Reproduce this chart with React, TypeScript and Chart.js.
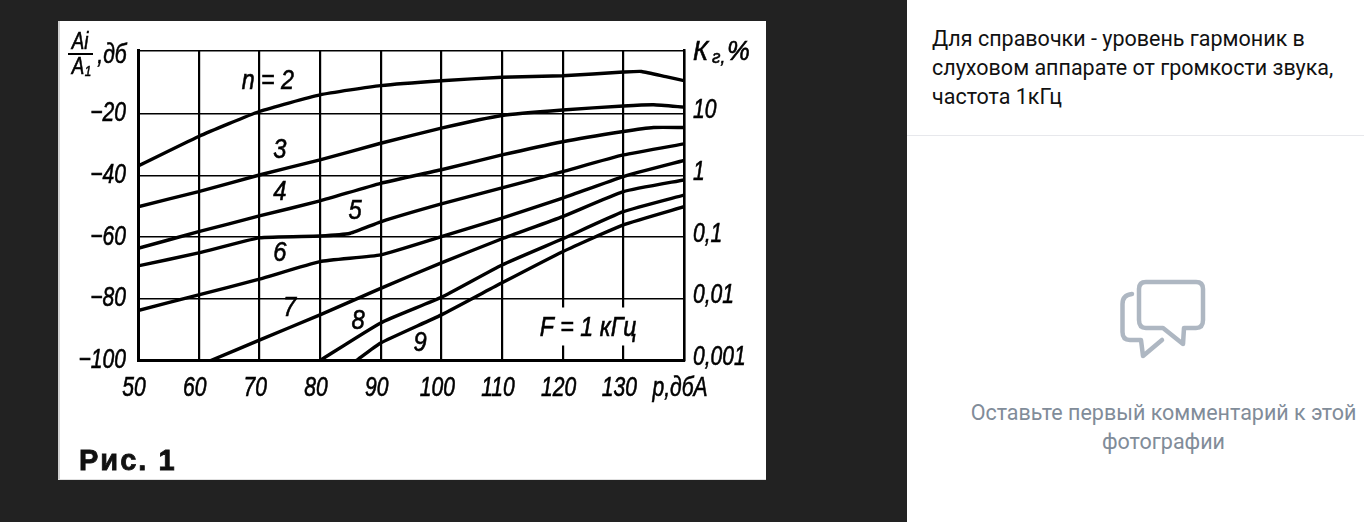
import React, { useEffect, useRef } from "react";
import { Chart, registerables } from "chart.js";

Chart.register(...registerables);

const xTicks = [50, 60, 70, 80, 90, 100, 110, 120, 130, 140];
const xTickLabels = ["50", "60", "70", "80", "90", "100", "110", "120", "130", "р,дбА"];
const leftTicks = [-100, -80, -60, -40, -20];
const leftTickLabels = ["−100", "−80", "−60", "−40", "−20"];
const rightTicks = [0.001, 0.01, 0.1, 1, 10];
const rightTickLabels = ["0,001", "0,01", "0,1", "1", "10"];

const n2X = [50, 60, 70, 80, 90, 100, 110, 120, 130, 133, 137, 140];
const n2Y = [-36.9, -27.3, -19.2, -13.8, -10.8, -9.2, -8.1, -7.6, -6.4, -6.2, -7.9, -9.2];
const n3X = [50, 60, 70, 80, 90, 100, 110, 120, 130, 135, 140];
const n3Y = [-50.1, -45.2, -39.8, -34.9, -29.5, -24.6, -20.5, -18.7, -17.4, -17, -17.8];
const n4X = [50, 60, 70, 80, 90, 100, 110, 120, 130, 135, 140];
const n4Y = [-63.6, -58.2, -53.1, -48.2, -42.5, -38.1, -33.3, -29, -25.7, -24.4, -24.4];
const n5X = [50, 60, 70, 80, 85, 90, 100, 110, 120, 130, 140];
const n5Y = [-69.3, -65.1, -60.2, -59.6, -58.7, -55, -49.2, -44, -38.7, -33.3, -29.7];
const n6X = [50, 60, 70, 80, 90, 100, 110, 120, 130, 140];
const n6Y = [-83.8, -78.7, -73.6, -67.9, -65.7, -59.8, -53.8, -47.3, -40.3, -35.1];
const n7X = [62, 70, 80, 90, 100, 110, 120, 130, 140];
const n7Y = [-100, -93.4, -85.2, -76.6, -68.3, -60.5, -53.3, -45.2, -41.4];
const n8X = [80, 90, 100, 110, 120, 130, 140];
const n8Y = [-100, -87.8, -79.5, -69, -60.5, -51.7, -46.3];
const n9X = [86, 90, 100, 110, 120, 130, 140];
const n9Y = [-100, -94.3, -85.2, -74.8, -64.7, -56, -50.1];

const curveTexts = ["n = 2", "3", "4", "5", "6", "7", "8", "9", "F = 1 кГц"];
const curveTextX = [71.4, 73.4, 73.4, 85.8, 73.4, 75, 86.3, 96.5, 124.2];
const curveTextY = [-9.6, -31.7, -45.6, -51.8, -65.4, -83, -87.5, -94.6, -89.5];

const series = [
  [n2X, n2Y],
  [n3X, n3Y],
  [n4X, n4Y],
  [n5X, n5Y],
  [n6X, n6Y],
  [n7X, n7Y],
  [n8X, n8Y],
  [n9X, n9Y],
];

const FONT = '"Liberation Sans", sans-serif';
const tickFont = { family: FONT, size: 27, style: "italic" as const };

let squeeze = 0.78;

const annotations = {
  id: "annotations",
  install(chart: any) {
    // The drawing uses a narrow slanted lettering; no condensed face is installed,
    // so italic text is squeezed horizontally around its own anchor.
    const ctx = chart.ctx;
    const plain = ctx.fillText.bind(ctx);
    ctx.fillText = (t: string, x: number, y: number) => {
      if (!String(ctx.font).startsWith("italic")) return plain(t, x, y);
      ctx.save();
      ctx.translate(x, y);
      ctx.scale(squeeze, 1);
      plain(t, 0, 0);
      ctx.strokeStyle = "#000";
      ctx.lineWidth = 0.6;
      ctx.strokeText(t, 0, 0);
      ctx.restore();
    };
  },
  afterDraw(chart: any) {
    const { ctx, scales } = chart;
    ctx.save();
    // the drawing leaves the grid out around the "F = 1 кГц" note
    ctx.fillStyle = "#fff";
    ctx.fillRect(scales.x.getPixelForValue(116.5), scales.y.getPixelForValue(-82.8), scales.x.getPixelForValue(132) - scales.x.getPixelForValue(116.5), 38);
    ctx.fillStyle = "#000";
    ctx.textBaseline = "middle";
    ctx.textAlign = "center";
    ctx.font = `italic 27px ${FONT}`;
    curveTexts.forEach((t, i) => {
      squeeze = t.length > 1 ? 0.86 : 0.88;
      ctx.fillText(t, scales.x.getPixelForValue(curveTextX[i]), scales.y.getPixelForValue(curveTextY[i]));
    });
    squeeze = 0.78;
    // axis captions (canvas coordinates)
    ctx.font = `italic 24px ${FONT}`;
    ctx.fillText("Ai", 22, 21);
    ctx.fillText("A", 20, 46);
    ctx.font = `italic 15px ${FONT}`;
    ctx.fillText("1", 30, 51);
    ctx.fillRect(10, 32, 25, 2);
    ctx.font = `italic 27px ${FONT}`;
    ctx.fillText(",дб", 54, 34);
    ctx.textAlign = "left";
    squeeze = 0.95;
    ctx.fillText("К", 635, 31);
    ctx.font = `italic 18px ${FONT}`;
    ctx.fillText("г,", 654, 37);
    ctx.font = `italic 27px ${FONT}`;
    ctx.fillText("%", 669, 31);
    squeeze = 0.78;
    ctx.font = `bold 29px ${FONT}`;
    ctx.fillStyle = "#111";
    ctx.strokeStyle = "#111";
    ctx.lineWidth = 0.8;
    ctx.letterSpacing = "2px";
    ctx.fillText("Рис. 1", 21, 441);
    ctx.strokeText("Рис. 1", 21, 441);
    ctx.letterSpacing = "0px";
    ctx.restore();
  },
};

function ChartCanvas() {
  const ref = useRef<HTMLCanvasElement>(null);
  useEffect(() => {
    const chart = new Chart(ref.current as HTMLCanvasElement, {
      type: "line",
      data: {
        datasets: series.map(([xs, ys], i) => ({
          label: `n=${i + 2}`,
          data: xs.map((x, j) => ({ x, y: ys[j] })),
          borderColor: "#000",
          borderWidth: 3.4,
          pointRadius: 0,
          tension: 0.15,
          yAxisID: "y",
          xAxisID: "x",
        })),
      },
      plugins: [annotations],
      options: {
        animation: false,
        responsive: false,
        devicePixelRatio: 1,
        layout: { padding: { top: 29.5, left: 0, right: 0, bottom: 0 } },
        plugins: { legend: { display: false }, tooltip: { enabled: false } },
        scales: {
          x: {
            type: "linear",
            min: 50,
            max: 140,
            afterBuildTicks: (s: any) => {
              s.ticks = xTicks.map((value) => ({ value }));
            },
            afterFit: (s: any) => {
              s.height = 119.5;
            },
            grid: { color: "#000", lineWidth: 2.2, drawTicks: false },
            border: { color: "#000", width: 3 },
            ticks: {
              color: "#000",
              font: tickFont,
              padding: 12,
              maxRotation: 0,
              autoSkip: false,
              labelOffset: -4,
              callback: (v: any) => xTickLabels[xTicks.indexOf(Number(v))],
            },
          },
          y: {
            type: "linear",
            position: "left",
            min: -100,
            max: 0.6,
            afterBuildTicks: (s: any) => {
              s.ticks = [...leftTicks, 0.6].map((value) => ({ value }));
            },
            afterFit: (s: any) => {
              s.width = 80;
            },
            grid: { color: "#000", lineWidth: 1.6, drawTicks: false },
            border: { color: "#000", width: 3 },
            ticks: {
              color: "#000",
              font: tickFont,
              padding: 12,
              autoSkip: false,
              callback: (v: any) => leftTickLabels[leftTicks.indexOf(Number(v))] ?? "",
            },
          },
          yRight: {
            type: "logarithmic",
            position: "right",
            min: 0.001,
            max: 107,
            afterBuildTicks: (s: any) => {
              s.ticks = rightTicks.map((value) => ({ value }));
            },
            afterFit: (s: any) => {
              s.width = 82;
            },
            grid: { display: false, drawTicks: false },
            border: { color: "#000", width: 2.5 },
            ticks: {
              color: "#000",
              font: tickFont,
              padding: 9,
              autoSkip: false,
              labelOffset: -3,
              callback: (v: any) => rightTickLabels[rightTicks.indexOf(Number(v))],
            },
          },
        },
      } as any,
    });
    return () => chart.destroy();
  }, []);
  return <canvas ref={ref} width={708} height={459} style={{ display: "block", width: 708, height: 459 }} />;
}

export default function App() {
  return (
    <div style={{ position: "fixed", inset: 0, background: "#222222", overflow: "hidden", fontFamily: "Roboto, sans-serif" }}>
      <div style={{ position: "absolute", left: 58, top: 21, width: 708, height: 459, background: "#fff" }}>
        <ChartCanvas />
        <div style={{ position: "absolute", left: 0, top: 0, width: 2, height: 459, background: "#d2d2d2" }} />
        <div style={{ position: "absolute", left: 0, top: 458, width: 708, height: 1, background: "#e0e0e0" }} />
      </div>
      <div style={{ position: "absolute", left: 907, top: 0, width: 457, height: 522, background: "#fff" }}>
        <div style={{ position: "absolute", left: 25, top: 24, width: 425, fontSize: 21.5, lineHeight: "29px", color: "#111" }}>
          Для справочки - уровень гармоник в<br />слуховом аппарате от громкости звука,<br />частота 1кГц
        </div>
        <div style={{ position: "absolute", left: 0, top: 135, width: 457, height: 1, background: "#e7e8ec" }} />
        <svg style={{ position: "absolute", left: 0, top: 0 }} width={457} height={522} viewBox="907 0 457 522" fill="none">
          <path
            d="M1146 282 H1196 Q1203 282 1203 289 V320 Q1203 328 1196 328 H1184 L1183 344 L1163 328 H1146 Q1139 328 1139 320 V289 Q1139 282 1146 282 Z"
            stroke="#aeb7c2"
            strokeWidth={4.5}
            strokeLinejoin="round"
          />
          <path
            d="M1132 294 Q1122.5 295 1122.5 304 V332 Q1122.5 340 1130 340 H1141 L1143 356 L1162 340"
            stroke="#aeb7c2"
            strokeWidth={4.5}
            strokeLinecap="round"
            strokeLinejoin="round"
          />
        </svg>
        <div style={{ position: "absolute", left: 56, top: 398, width: 401, textAlign: "center", fontSize: 21.5, lineHeight: "29px", color: "#818c99", whiteSpace: "nowrap" }}>
          Оставьте первый комментарий к этой<br />фотографии
        </div>
      </div>
    </div>
  );
}
